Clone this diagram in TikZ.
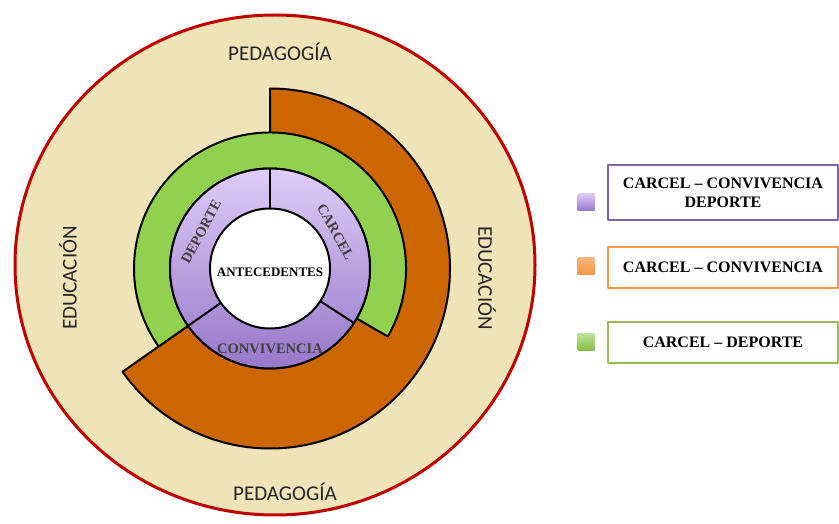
\documentclass[tikz,border=0pt]{standalone}
\usepackage{fontspec}
\setmainfont{Liberation Serif}
\newfontfamily\calibri{Carlito}
\usepackage{tikz}

\definecolor{beige}{RGB}{239,227,184}
\definecolor{ringred}{RGB}{192,0,0}
\definecolor{burnt}{RGB}{204,102,0}
\definecolor{leaf}{RGB}{146,208,80}
\definecolor{lilac}{RGB}{222,204,248}
\definecolor{violet}{RGB}{150,120,200}
\definecolor{lgpurple}{RGB}{128,100,162}
\definecolor{lgorange}{RGB}{247,150,70}
\definecolor{lggreen}{RGB}{155,187,89}

\begin{document}
\begin{tikzpicture}[x=1pt, y=1pt, line join=round]
        \tikzstyle{field}=[font=\calibri\fontsize{21}{25}\selectfont, text=black!85, inner sep=0pt]
        \tikzstyle{ring}=[font=\bfseries\fontsize{14.5}{17}\selectfont, text=black!75, inner sep=0pt]
        \tikzstyle{band}=[draw=black, line width=2pt]
        \tikzstyle{legend}=[rectangle, fill=white, line width=1.6pt, minimum width=230pt, minimum height=41pt, inner sep=0pt, align=center, font=\bfseries\fontsize{16}{19}\selectfont]
        \tikzstyle{swatch}=[rectangle, minimum size=17pt, inner sep=0pt]

        \useasboundingbox (0,0) rectangle (839,523);

        % outer field
        \draw[line width=3pt, draw=ringred, fill=beige] (275,258) ellipse[x radius=260pt, y radius=250pt];
        \node[field] (ped1) at (280,471) {PEDAGOGÍA};
        \node[field] (ped2) at (285,31) {PEDAGOGÍA};
        \node[field, rotate=90] (edu1) at (68,245) {EDUCACIÓN};
        \node[field, rotate=-90] (edu2) at (487,245) {EDUCACIÓN};

        \begin{scope}[shift={(270,254.5)}]
        % rings
        \draw[band, fill=burnt] (90:100) -- (90:180) arc[start angle=90, end angle=-145, radius=180pt]
                -- (-145:100) arc[start angle=-145, end angle=90, radius=100pt] -- cycle;
        \draw[band, fill=leaf] (-30:100) -- (-30:136) arc[start angle=-30, end angle=215, radius=136pt]
                -- (215:100) arc[start angle=215, end angle=-30, radius=100pt] -- cycle;
        \shade[top color=lilac, bottom color=violet] (0,0) circle[radius=100pt];
        \draw[band] (90:60) -- (90:100);
        \draw[band] (-33:60) -- (-33:100);
        \draw[band] (215:60) -- (215:100);
        \draw[band] (0,0) circle[radius=100pt];
        \draw[band, fill=white] (0,0) circle[radius=60pt];

        \node[ring, font=\bfseries\fontsize{13}{15}\selectfont, text=black] (antec) at (0,-4) {ANTECEDENTES};
        \node[ring, rotate=62] (dep) at (152:78) {DEPORTE};
        \node[ring, rotate=-61] (carc) at (29:75) {CARCEL};
        \node[ring] (conv) at (0,-80) {CONVIVENCIA};
        \end{scope}

        % legend
        \node[legend, draw=lgpurple, minimum height=55pt] (box1) at (723,330.5) {CARCEL – CONVIVENCIA\\DEPORTE};
        \node[legend, draw=lgorange, below of=box1, node distance=75pt] (box2) {CARCEL – CONVIVENCIA};
        \node[legend, draw=lggreen, below of=box2, node distance=75pt] (box3) {CARCEL – DEPORTE};

        \node[swatch, top color=lilac, bottom color=violet] (sw1) at (586,321) {};
        \node[swatch, top color=lgorange!70, bottom color=lgorange] (sw2) at (586,257) {};
        \node[swatch, top color=leaf!60, bottom color=leaf!90!black] (sw3) at (586,181) {};
\end{tikzpicture}
\end{document}
